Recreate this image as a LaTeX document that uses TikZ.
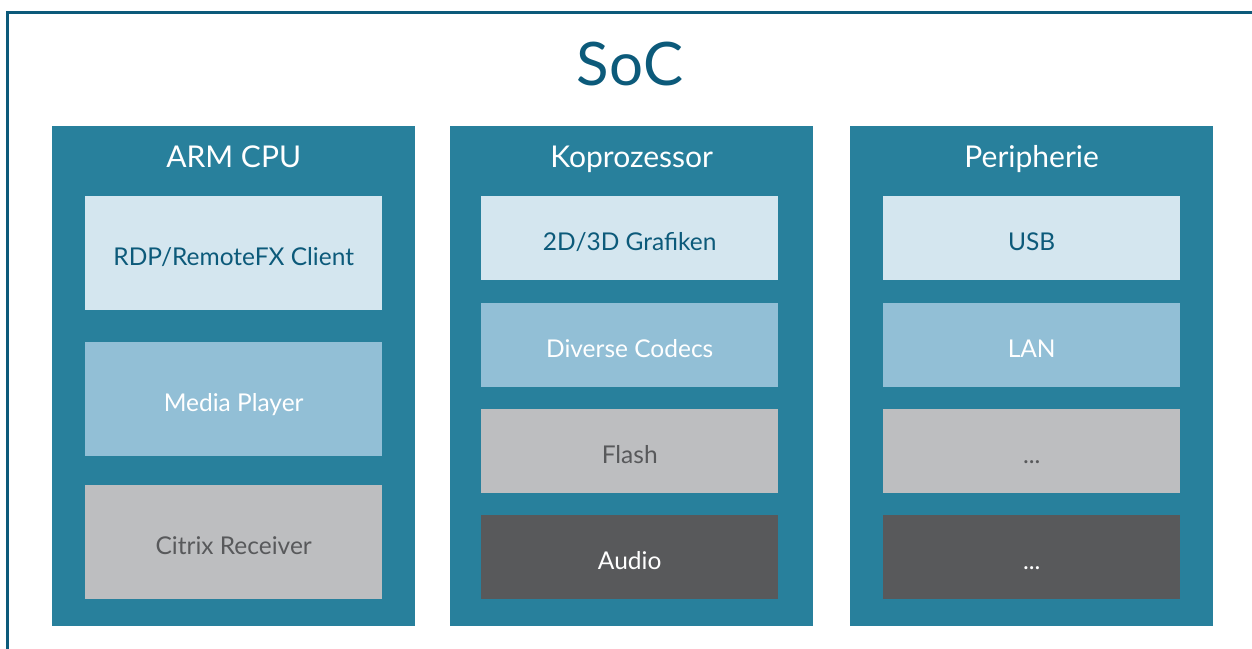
\documentclass[tikz,border=0pt]{standalone}
\usepackage{fontspec}
\setmainfont{Lato}
\usetikzlibrary{positioning}
\definecolor{socdark}{HTML}{0C5A7A}
\definecolor{soccol}{HTML}{28809C}
\definecolor{socpale}{HTML}{D4E6EF}
\definecolor{socmid}{HTML}{92BFD6}
\definecolor{socgrey}{HTML}{BDBEC0}
\definecolor{socblack}{HTML}{58595B}
\tikzstyle{frame} = [draw=socdark,line width=3pt]
\tikzstyle{soctitle} = [text=socdark,font=\fontsize{60}{70}\selectfont,inner sep=0]
\tikzstyle{column} = [fill=soccol,inner sep=0,minimum width=363pt,minimum height=500pt,anchor=north west]
\tikzstyle{head} = [text=white,font=\fontsize{30}{36}\selectfont,inner sep=0,text height=21pt,text depth=0pt]
\tikzstyle{unit} = [inner sep=0,minimum width=297pt,text height=25pt,text depth=0pt,font=\fontsize{24.5}{28}\selectfont]
\tikzstyle{tall} = [unit,minimum height=114pt]
\tikzstyle{short} = [unit,minimum height=84pt]
\tikzstyle{pale} = [fill=socpale,text=socdark]
\tikzstyle{mid} = [fill=socmid,text=white]
\tikzstyle{grey} = [fill=socgrey,text=socblack]
\tikzstyle{black} = [fill=socblack,text=white]
\def \top {70pt}
\def \gap {22pt}

\begin{document}
\begin{tikzpicture}[x=1pt,y=1pt]
      \useasboundingbox (0,0) rectangle (1252,648);
      \clip (0,0) rectangle (1252,648);
      \draw[frame] (7.5,-20) -- (7.5,635.5) -- (1270,635.5);
      \node[soctitle] (soc) at (630,584) {SoC};
      % columns
      \node[column] (arm) at (52,522) {};
      \node[column] (kopro) at (450,522) {};
      \node[column] (peri) at (850,522) {};
      \node[head] (armhead) at ([yshift=-31pt]arm.north) {ARM CPU};
      \node[head] (koprohead) at ([yshift=-31pt]kopro.north) {Koprozessor};
      \node[head] (perihead) at ([yshift=-31pt]peri.north) {Peripherie};
      % ARM CPU
      \node[tall,pale,below=\top of arm.north] (rdp) {RDP/RemoteFX Client};
      \node[tall,mid,below=31pt of rdp] (media) {Media Player};
      \node[tall,grey,below=29pt of media] (citrix) {Citrix Receiver};
      % Koprozessor
      \node[short,pale,below=\top of kopro.north,xshift=-2pt] (gfx) {2D/3D Grafiken};
      \node[short,mid,below=\gap of gfx] (codecs) {Diverse Codecs};
      \node[short,grey,below=\gap of codecs] (flash) {Flash};
      \node[short,black,below=\gap of flash] (audio) {Audio};
      % Peripherie
      \node[short,pale,below=\top of peri.north] (usb) {USB};
      \node[short,mid,below=\gap of usb] (lan) {LAN};
      \node[short,grey,below=\gap of lan] (more) {...};
      \node[short,black,below=\gap of more] (rest) {...};
    \end{tikzpicture}
\end{document}
